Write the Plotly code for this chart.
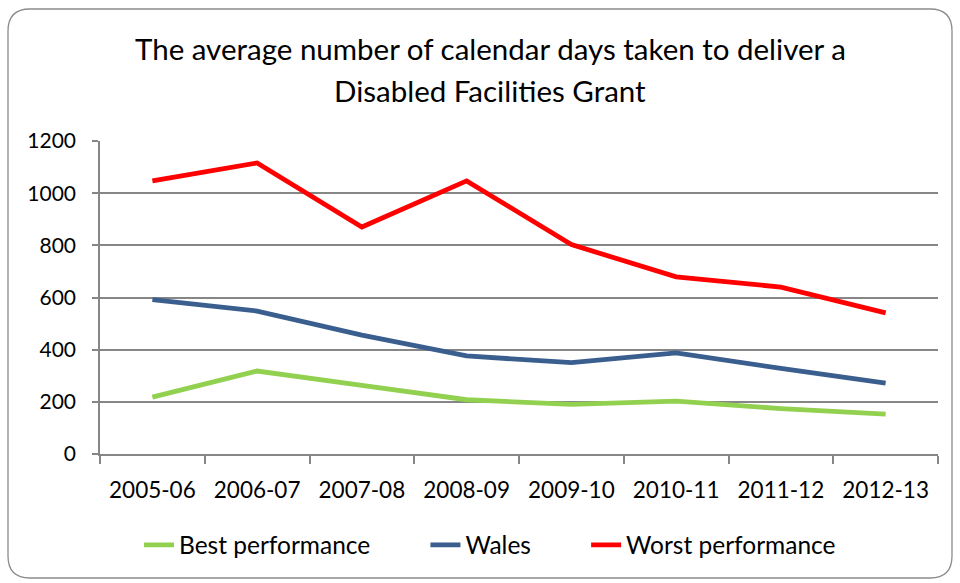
import plotly.graph_objects as go

years = ["2005-06", "2006-07", "2007-08", "2008-09", "2009-10", "2010-11", "2011-12", "2012-13"]
best = [218, 318, 263, 208, 190, 203, 174, 153]
wales = [592, 548, 456, 376, 350, 388, 328, 272]
worst = [1047, 1116, 870, 1047, 803, 679, 640, 541]
title_lines = ["The average number of calendar days taken to deliver a", "Disabled Facilities Grant"]
PAD = "\u00a0" * 8

FONT = "Lato"
W, H = 960, 583
L, R, T, B = 100, 22, 141, 129
pw, ph = W - L - R, H - T - B

def px(x):
    return (x - L) / pw

def py(y):
    return (H - B - y) / ph

fig = go.Figure()
fig.add_trace(go.Scatter(x=years, y=best, mode="lines", name="Best performance" + PAD,
                         line=dict(color="#92D050", width=4.8)))
fig.add_trace(go.Scatter(x=years, y=wales, mode="lines", name="Wales" + PAD,
                         line=dict(color="#3A5F8F", width=4.8)))
fig.add_trace(go.Scatter(x=years, y=worst, mode="lines", name="Worst performance",
                         line=dict(color="#FF0000", width=4.8)))

# rounded chart border
x0, x1, y0, y1, r = 8, 952, 9, 578, 22
path = (f"M {px(x0 + r)},{py(y0)} L {px(x1 - r)},{py(y0)} "
        f"Q {px(x1)},{py(y0)} {px(x1)},{py(y0 + r)} L {px(x1)},{py(y1 - r)} "
        f"Q {px(x1)},{py(y1)} {px(x1 - r)},{py(y1)} L {px(x0 + r)},{py(y1)} "
        f"Q {px(x0)},{py(y1)} {px(x0)},{py(y1 - r)} L {px(x0)},{py(y0 + r)} "
        f"Q {px(x0)},{py(y0)} {px(x0 + r)},{py(y0)} Z")
fig.add_shape(type="path", path=path, xref="paper", yref="paper",
              line=dict(color="#8C8C8C", width=1.3), layer="below")

# title as two annotations (to control line spacing)
for txt, yc in zip(title_lines, [48, 91]):
    fig.add_annotation(text=txt, xref="paper", yref="paper", x=px(490), y=py(yc),
                       xanchor="center", yanchor="middle", showarrow=False,
                       font=dict(family=FONT, size=29.5, color="black"))

fig.update_layout(
    width=W, height=H,
    margin=dict(l=L, r=R, t=T, b=B, autoexpand=False),
    paper_bgcolor="white", plot_bgcolor="white",
    font=dict(family=FONT, color="black", size=22),
    showlegend=True,
    legend=dict(orientation="h", x=490 / W, xanchor="center", xref="container",
                y=1 - 545 / H, yref="container", yanchor="middle",
                font=dict(family=FONT, size=24.5), itemwidth=30,
                bgcolor="rgba(0,0,0,0)"),
    xaxis=dict(type="category", range=[-0.5, 7.5], tickson="boundaries",
               ticks="outside", ticklen=8, tickcolor="#868686", tickwidth=1.5,
               showline=True, linecolor="#868686", linewidth=1.5,
               showgrid=False, ticklabelstandoff=15, tickangle=0, automargin=False,
               tickfont=dict(family=FONT, size=22.5)),
    yaxis=dict(range=[0, 1200], dtick=200, tick0=0,
               ticks="outside", ticklen=6, tickcolor="#868686", tickwidth=1.5,
               showline=True, linecolor="#868686", linewidth=1.5,
               showgrid=True, gridcolor="#868686", gridwidth=1.5,
               zeroline=False, ticklabelstandoff=12, automargin=False,
               tickfont=dict(family=FONT, size=21)),
)

fig.write_html("out.html", config={"displayModeBar": False},
               post_script="document.body.style.margin='0px';")
